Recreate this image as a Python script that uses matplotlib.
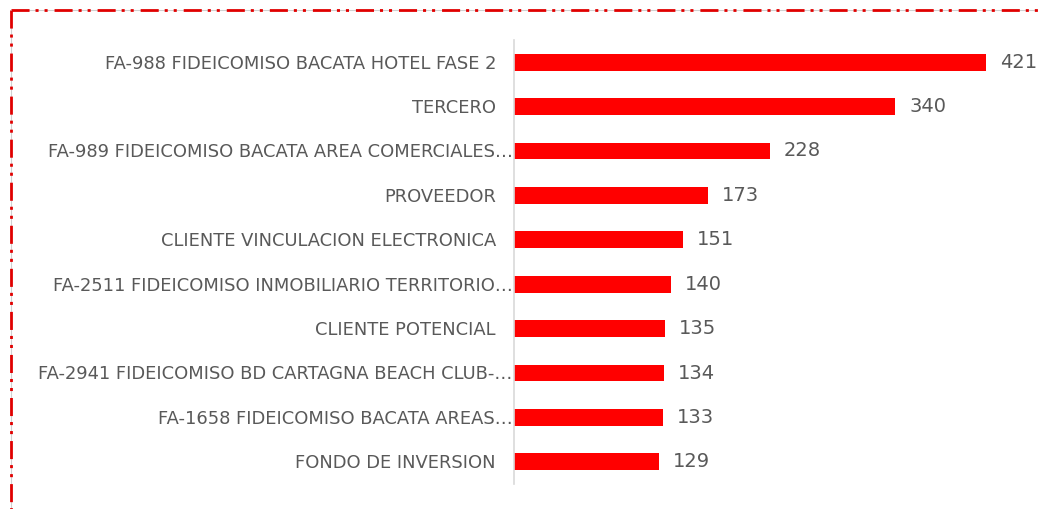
import matplotlib
matplotlib.use("Agg")
import matplotlib.pyplot as plt
from matplotlib.lines import Line2D

plt.rcParams['lines.scale_dashes'] = False
plt.rcParams['font.family'] = ['DejaVu Sans']

# --- data ---
categories = [
    "FA-988 FIDEICOMISO BACATA HOTEL FASE 2",
    "TERCERO",
    "FA-989 FIDEICOMISO BACATA AREA COMERCIALES\u2026",
    "PROVEEDOR",
    "CLIENTE VINCULACION ELECTRONICA",
    "FA-2511 FIDEICOMISO INMOBILIARIO TERRITORIO\u2026",
    "CLIENTE POTENCIAL",
    "FA-2941 FIDEICOMISO BD CARTAGNA BEACH CLUB-\u2026",
    "FA-1658 FIDEICOMISO BACATA AREAS\u2026",
    "FONDO DE INVERSION",
]
values = [421, 340, 228, 173, 151, 140, 135, 134, 133, 129]

W, H = 1038, 509
fig = plt.figure(figsize=(W / 100, H / 100), dpi=100)
ax = fig.add_axes([514 / W, 1 - 484 / H, 516 / W, 444 / H])

ypos = list(range(len(categories)))
ax.barh(ypos, values, height=0.38, color='#ff0000')
ax.set_ylim(len(categories) - 0.5, -0.5)
ax.set_xlim(0, 460)

grey = '#595959'
for y, v in zip(ypos, values):
    ax.annotate(str(v), (v, y), xytext=(10, 0), textcoords='offset points',
                va='center', ha='left', fontsize=14, color=grey)

# category labels (truncated ones run up to the axis line)
for y, c in zip(ypos, categories):
    off = -1 if c.endswith('\u2026') else -13
    ax.annotate(c, (0, y), xycoords=('axes fraction', 'data'),
                xytext=(off, -1), textcoords='offset points',
                va='center', ha='right', fontsize=12.9, color=grey)

ax.set_yticks([])
ax.set_xticks([])
for s in ['top', 'right', 'bottom']:
    ax.spines[s].set_visible(False)
ax.spines['left'].set_color('#d9d9d9')
ax.spines['left'].set_linewidth(1.2)

# dashed frame (only top and left edges visible)
x0, y0 = 11 / W, 1 - 10 / H
dash = (0, (13, 4.3, 2.2, 4.3, 2.2, 5))
for xs, ys in [([x0, 1.0], [y0, y0]), ([x0, x0], [y0, 0.0])]:
    fig.add_artist(Line2D(xs, ys, transform=fig.transFigure, color='#d0d0d0', lw=0.8))
    fig.add_artist(Line2D(xs, ys, transform=fig.transFigure, color='#e00000',
                          lw=2.0, linestyle=dash))

fig.savefig('out.png', dpi=100)
